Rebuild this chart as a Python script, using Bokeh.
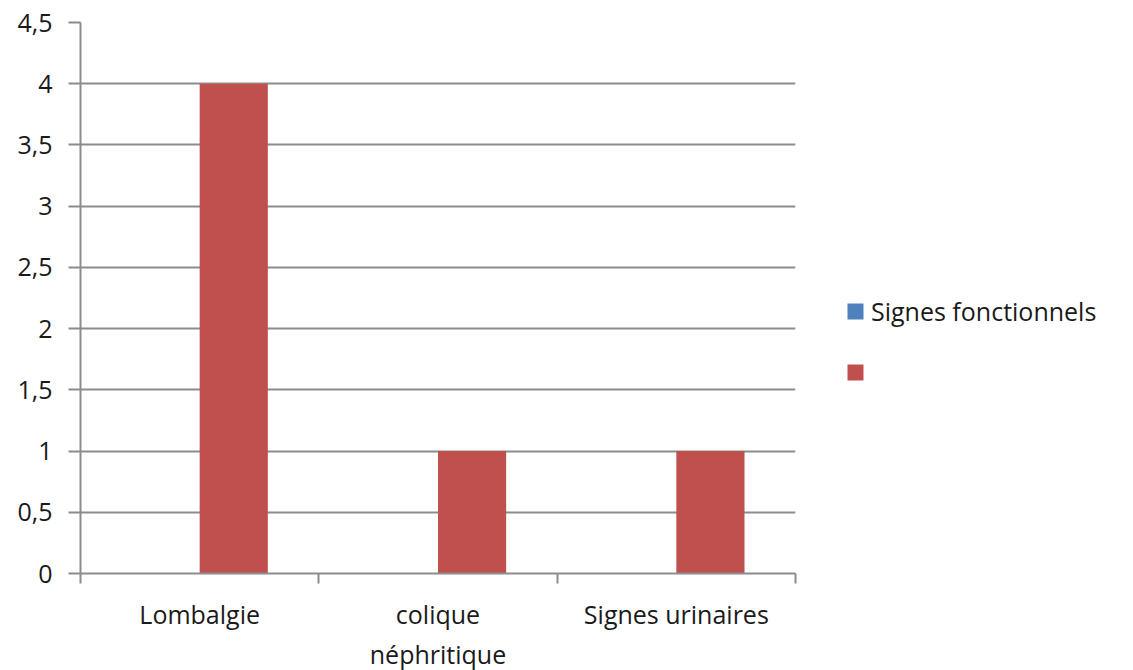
from bokeh.plotting import figure
from bokeh.models import Range1d, FixedTicker, Legend, LegendItem, ColumnDataSource
from bokeh.transform import dodge
from bokeh.embed import file_html
from bokeh.resources import INLINE

categories = ["Lombalgie", "colique\nnéphritique", "Signes urinaires"]
series_names = ["Signes fonctionnels", ""]
series1 = [0, 0, 0]
series2 = [4, 1, 1]
yticks = [0, 0.5, 1, 1.5, 2, 2.5, 3, 3.5, 4, 4.5]
ytick_labels = ["0", "0,5", "1", "1,5", "2", "2,5", "3", "3,5", "4", "4,5"]

FONT = "Open Sans"
FS = "25px"
GRID = "#8c8c8c"
TXT = "#1a1a1a"

src = ColumnDataSource(dict(x=[i + 0.5 for i in range(len(categories))], s1=series1, s2=series2))

p = figure(frame_width=715, frame_height=551, output_backend="svg", toolbar_location=None,
           x_range=Range1d(0, len(categories)), y_range=Range1d(0, 4.5),
           min_border_left=80, min_border_right=338, min_border_top=22, min_border_bottom=60)
p.outline_line_color = None
p.background_fill_color = "white"
p.border_fill_color = "white"

bw = 0.286
r1 = p.vbar(x=dodge("x", -bw / 2, range=p.x_range), top="s1", width=bw, source=src,
            fill_color="#4F81BD", line_color=None)
r2 = p.vbar(x=dodge("x", bw / 2, range=p.x_range), top="s2", width=bw, source=src,
            fill_color="#C0504D", line_color=None)

# y axis
p.yaxis.ticker = FixedTicker(ticks=yticks)
p.yaxis.major_label_overrides = {t: l for t, l in zip(yticks, ytick_labels)}
p.yaxis.axis_line_color = GRID
p.yaxis.axis_line_width = 2
p.yaxis.major_tick_line_color = GRID
p.yaxis.major_tick_line_width = 2
p.yaxis.major_tick_out = 12
p.yaxis.major_tick_in = 0
p.yaxis.minor_tick_line_color = None
p.yaxis.major_label_standoff = 16
p.yaxis.major_label_text_font = FONT
p.yaxis.major_label_text_font_size = FS
p.yaxis.major_label_text_color = TXT

# x axis
xt = [i + 0.5 for i in range(len(categories))]
p.xaxis.ticker = FixedTicker(ticks=xt, minor_ticks=list(range(len(categories) + 1)))
p.xaxis.major_label_overrides = {t: c for t, c in zip(xt, categories)}
p.xaxis.axis_line_color = GRID
p.xaxis.axis_line_width = 2
p.xaxis.major_tick_line_color = None
p.xaxis.major_tick_out = 10
p.xaxis.major_tick_in = 0
p.xaxis.minor_tick_line_color = GRID
p.xaxis.minor_tick_line_width = 2
p.xaxis.minor_tick_out = 10
p.xaxis.minor_tick_in = 0
p.xaxis.major_label_standoff = 13
p.xaxis.major_label_text_font = FONT
p.xaxis.major_label_text_font_size = FS
p.xaxis.major_label_text_color = TXT
p.xaxis.major_label_text_line_height = 1.2

p.xgrid.grid_line_color = None
p.ygrid.grid_line_color = GRID
p.ygrid.grid_line_width = 2

legend = Legend(items=[LegendItem(label=series_names[0], renderers=[r1]),
                       LegendItem(label=series_names[1], renderers=[r2])],
                location=(50, 186), orientation="vertical",
                border_line_color=None, background_fill_alpha=0,
                padding=0, margin=0, spacing=29,
                glyph_width=20, glyph_height=20, label_standoff=6,
                label_text_font=FONT, label_text_font_size=FS,
                label_text_color=TXT, label_height=30)
p.add_layout(legend, "right")

open("out.html", "w").write(file_html(p, INLINE))
